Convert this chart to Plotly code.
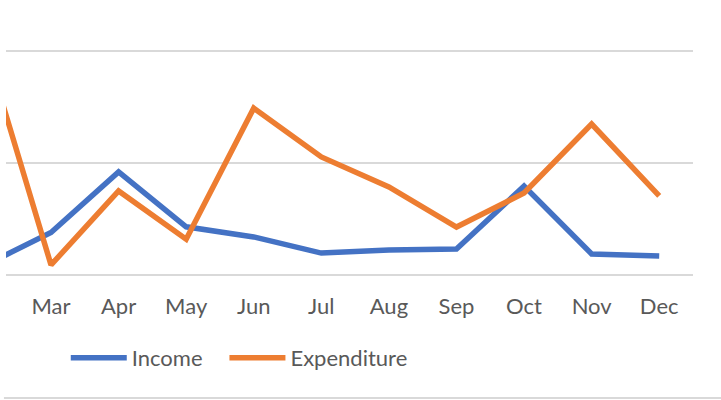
import plotly.graph_objects as go

months = ["Feb", "Mar", "Apr", "May", "Jun", "Jul", "Aug", "Sep", "Oct", "Nov", "Dec"]
income = [400, 1900, 4600, 2150, 1700, 980, 1120, 1160, 3970, 940, 850]
expenditure = [10500, 450, 3750, 1600, 7450, 5270, 3930, 2140, 3660, 6740, 3530]
series_names = ["Income", "Expenditure"]

BLUE = "#4472C4"
ORANGE = "#ED7D31"
GRID = "#D9D9D9"
TEXT = "#595959"

fig = go.Figure()
fig.add_trace(go.Scatter(x=months, y=income, name=series_names[0] + "\u00a0" * 3, mode="lines",
                         line=dict(color=BLUE, width=5.5)))
fig.add_trace(go.Scatter(x=months, y=expenditure, name=series_names[1], mode="lines",
                         line=dict(color=ORANGE, width=5.5)))

fig.update_layout(
    width=721, height=400,
    margin=dict(l=6, r=28, t=0, b=125),
    paper_bgcolor="white", plot_bgcolor="white",
    font=dict(family="Lato", size=22, color=TEXT),
    showlegend=True,
    legend=dict(orientation="h", x=0.087, xanchor="left", y=-0.302, yanchor="middle",
                font=dict(family="Lato", size=22, color=TEXT), itemwidth=56,
                bgcolor="rgba(0,0,0,0)"),
    xaxis=dict(type="category", range=[0.334, 10.5], showgrid=False, zeroline=False,
               showline=False, ticks="", ticklabelstandoff=16,
               tickfont=dict(family="Lato", size=22, color=TEXT), fixedrange=True),
    yaxis=dict(range=[0, 12277], dtick=5000, showgrid=True, gridcolor=GRID, gridwidth=2,
               zeroline=True, zerolinecolor=GRID, zerolinewidth=2,
               showticklabels=False, fixedrange=True),
    shapes=[dict(type="line", xref="paper", yref="paper", x0=-0.003, x1=1.05,
                 y0=-0.447, y1=-0.447, line=dict(color=GRID, width=2))],
)

fig.write_html("out.html", config={"displayModeBar": False},
               post_script="document.body.style.margin='0';document.body.style.overflow='hidden';")
